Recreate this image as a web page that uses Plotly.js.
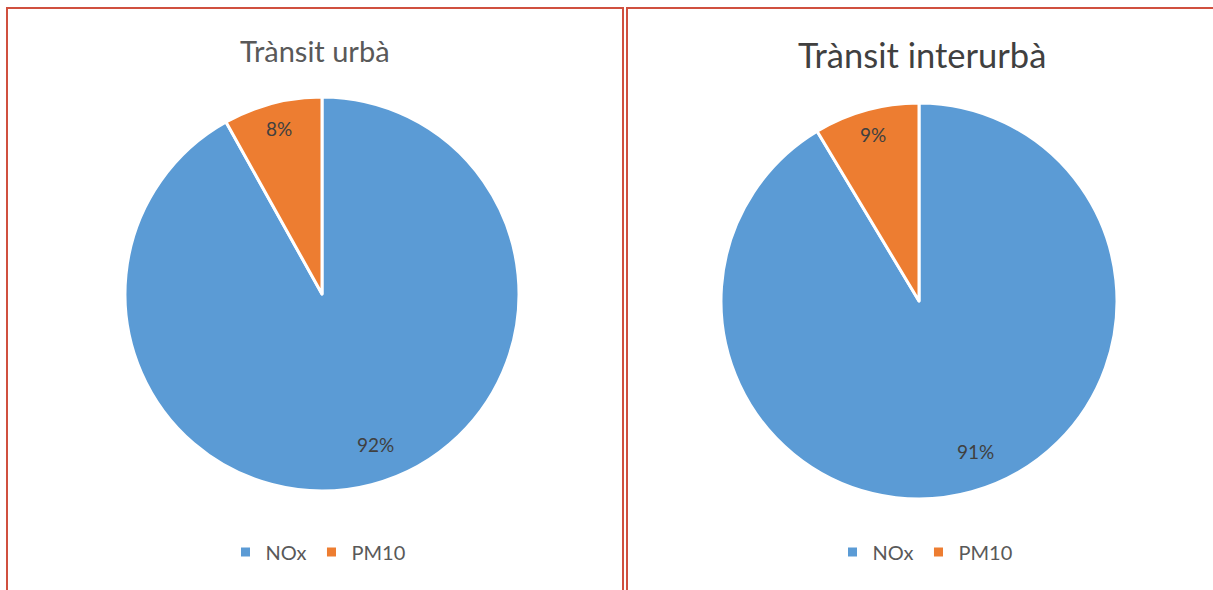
<!DOCTYPE html>
<html><head><meta charset="utf-8">
<script src="https://cdn.plot.ly/plotly-3.0.1.min.js"></script>
<style>html,body{margin:0;padding:0;background:#fff}#chart{width:1213px;height:590px}</style>
</head><body><div id="chart"></div>
<script>
const categories = ["NOx", "PM10"];
const urbanValues = [91.9, 8.1];
const interurbanValues = [91.4, 8.6];
const titles = ["Trànsit urbà", "Trànsit interurbà"];
const colors = ["#5b9bd5", "#ed7d31"];

const W = 1213, H = 590;
const px = v => v / W, py = v => 1 - v / H;

// second legend needs distinct label keys (zero-width suffix keeps text identical)
const labels2 = categories.map(c => c + "\u200b");

const pies = [
  {values: urbanValues, labels: categories, cx: 322, cy: 294, r: 197, legend: 'legend'},
  {values: interurbanValues, labels: labels2, cx: 919, cy: 301, r: 198, legend: 'legend2'}
];

const data = pies.map(p => ({
  type: 'pie', labels: p.labels, values: p.values, sort: false,
  direction: 'clockwise', rotation: 0,
  marker: {colors: colors, line: {color: '#ffffff', width: 3}},
  textinfo: 'none', textposition: 'none',
  domain: {x: [px(p.cx - p.r), px(p.cx + p.r)], y: [py(p.cy + p.r), py(p.cy - p.r)]},
  legend: p.legend, hoverinfo: 'label+percent'
}));

const annotations = [];
pies.forEach(p => {
  const total = p.values.reduce((a, b) => a + b, 0);
  let cum = 0;
  p.values.forEach(v => {
    const share = v / total;
    const a = (cum + share / 2) * 2 * Math.PI - (share > 0.5 ? 0.09 : 0);
    cum += share;
    const f = share > 0.5 ? 0.81 : 0.87;
    annotations.push({
      text: Math.round(share * 100) + '%', xref: 'paper', yref: 'paper',
      x: px(p.cx + f * p.r * Math.sin(a)), y: py(p.cy - f * p.r * Math.cos(a)),
      xanchor: 'center', yanchor: 'middle', showarrow: false,
      font: {family: 'Lato, sans-serif', size: 19, color: '#404040'}
    });
  });
});
annotations.push(
  {text: titles[0], xref: 'paper', yref: 'paper', x: px(315), y: py(50), xanchor: 'center', yanchor: 'middle', showarrow: false,
   font: {family: 'Lato, sans-serif', size: 29, color: '#595959'}},
  {text: titles[1], xref: 'paper', yref: 'paper', x: px(922), y: py(54), xanchor: 'center', yanchor: 'middle', showarrow: false,
   font: {family: 'Lato, sans-serif', size: 34.5, color: '#404040'}}
);

const legendFont = {family: 'Lato, sans-serif', size: 20, color: '#595959'};
const legBase = {orientation: 'h', xanchor: 'center', yanchor: 'middle', font: legendFont,
  bgcolor: 'rgba(0,0,0,0)', itemwidth: 30};
const layout = {
  width: W, height: H, margin: {l: 0, r: 0, t: 0, b: 0},
  paper_bgcolor: '#ffffff', showlegend: true,
  legend: Object.assign({}, legBase, {x: px(318), y: py(552)}),
  legend2: Object.assign({}, legBase, {x: px(925), y: py(552)}),
  annotations: annotations,
  shapes: [
    {type: 'rect', xref: 'paper', yref: 'paper', x0: px(7), x1: px(623), y0: py(600), y1: py(8), line: {color: '#d0503f', width: 2}},
    {type: 'rect', xref: 'paper', yref: 'paper', x0: px(627), x1: px(1225), y0: py(600), y1: py(8), line: {color: '#d0503f', width: 2}}
  ]
};
Plotly.newPlot('chart', data, layout, {displayModeBar: false});
</script></body></html>
